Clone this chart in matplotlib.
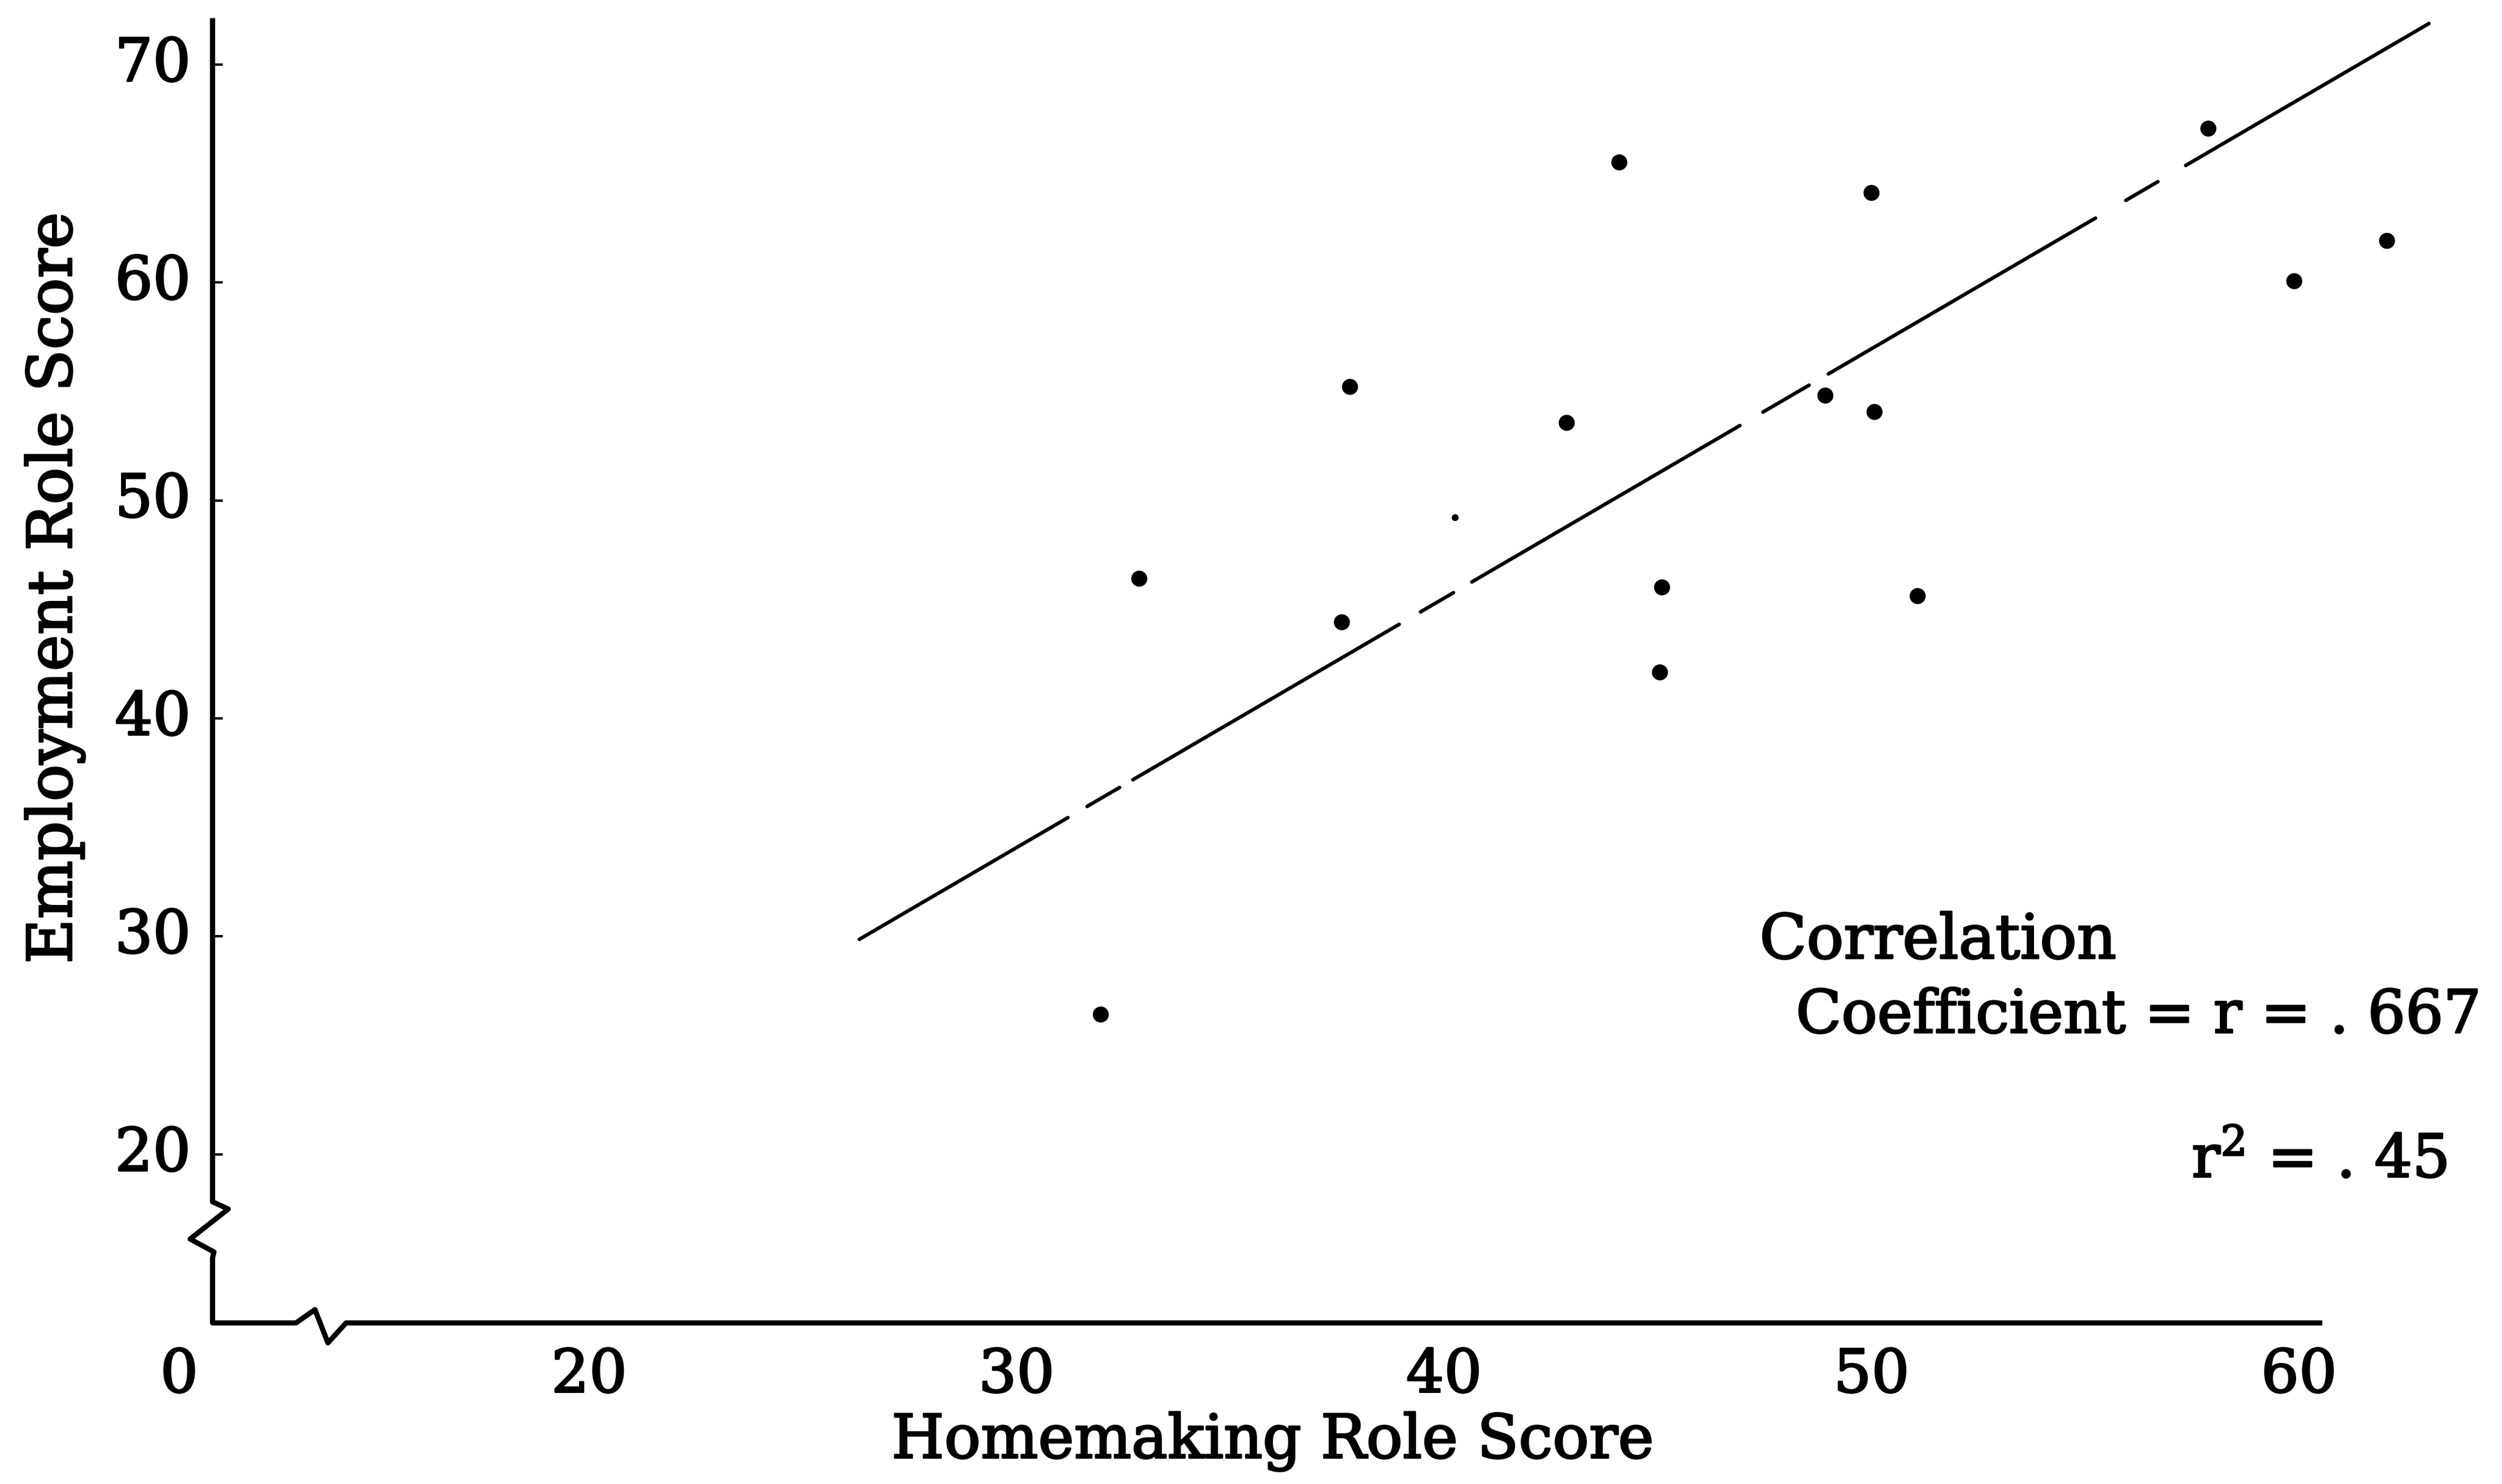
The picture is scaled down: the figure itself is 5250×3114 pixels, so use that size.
import numpy as np
import matplotlib
matplotlib.use("Agg")
import matplotlib.pyplot as plt
import matplotlib.patheffects as pe
from matplotlib.transforms import ScaledTranslation

plt.rcParams['font.family'] = 'DejaVu Serif'
plt.rcParams['mathtext.fontset'] = 'dejavuserif'

# scores
homemaking = [31.97, 32.87, 37.61, 37.80, 40.26, 42.87, 44.10, 45.10,
              45.05, 48.92, 50.00, 50.07, 51.08, 57.88, 59.89, 62.06]
employment = [26.4, 46.4, 44.4, 55.2, 49.2, 53.55, 65.5, 46.0,
              42.1, 54.8, 64.1, 54.05, 45.6, 67.05, 60.05, 61.9]

# regression line ends, and the gaps in the printed line
fit_x = [26.32, 63.04]
fit_y = [29.85, 71.87]
line_gaps = [(31.20, 31.65), (32.41, 32.72), (38.95, 39.45), (40.22, 40.65),
             (46.92, 47.46), (48.54, 48.99), (55.24, 55.95), (56.70, 57.35)]

x_ticks = [20, 30, 40, 50, 60]
y_ticks = [20, 30, 40, 50, 60, 70]

r_value = ". 667"
r2_value = ". 45"

fig = plt.figure(figsize=(17.5, 10.38), dpi=300)
ax = fig.add_axes([0.08495, 0.10854, 0.8937, 0.87926])
ax.set_xlim(11.19, 63.5)
ax.set_ylim(12.25, 72.12)
for s in ax.spines.values():
    s.set_visible(False)

# axes drawn by hand with the break marks
ax_x = [0, 0, 0.00703, -0.01002, 0.00064, 0, 0,
        0.0373, 0.0458, 0.0516, 0.0597, 0.9435]
ax_y = [1, 0.0928, 0.0873, 0.0643, 0.0544, 0.05, 0,
        0, 0.0102, -0.0153, 0, 0]
ax.plot(ax_x, ax_y, color='black', lw=2.6, transform=ax.transAxes,
        clip_on=False, solid_joinstyle='round', solid_capstyle='butt')

# regression line, broken where the original print is broken
pts = [fit_x[0]]
for a, b in line_gaps:
    pts += [a, b]
pts.append(fit_x[1])
for a, b in zip(pts[0::2], pts[1::2]):
    xs = np.array([a, b])
    ax.plot(xs, np.interp(xs, fit_x, fit_y), color='black', lw=1.8,
            solid_capstyle='round', clip_on=False)

sizes = np.full(len(homemaking), 65.0)
sizes[4] = 12.0
ax.scatter(homemaking, employment, s=sizes, c='black', linewidths=0,
           zorder=3, clip_on=False)

ax.set_xticks(x_ticks)
ax.set_yticks(y_ticks)
ax.tick_params(axis='x', length=0, pad=12, labelsize=30)
ax.tick_params(axis='y', direction='in', length=5, width=1.2, pad=11,
               labelsize=30)
for lab in ax.get_yticklabels():
    lab.set_transform(lab.get_transform() +
                      ScaledTranslation(0, 3 / 72, fig.dpi_scale_trans))

ax.annotate('0', xy=(10.41, 12.25), xycoords='data', xytext=(0, -12),
            textcoords='offset points', ha='center', va='top', fontsize=30,
            annotation_clip=False)

ax.set_xlabel('Homemaking Role Score', fontsize=30.5, va='baseline')
ax.xaxis.set_label_coords(0.4742, -0.1034)
ax.set_ylabel('Employment Role Score', fontsize=31, va='baseline')
ax.yaxis.set_label_coords(-0.0631, 0.563)

ax.text(47.38, 28.98, 'Correlation', fontsize=31, ha='left', va='baseline')
ax.text(48.23, 25.57, 'Coefficient = r = ' + r_value, fontsize=30,
        ha='left', va='baseline')
ax.text(57.49, 18.93, r'r$^{2}$ = ' + r2_value, fontsize=30,
        ha='left', va='baseline')

# typewriter ink is heavier than the plain font
ink = [pe.withStroke(linewidth=0.9, foreground='black')]
for t in ax.texts + ax.get_xticklabels() + ax.get_yticklabels() + \
        [ax.xaxis.label, ax.yaxis.label]:
    t.set_path_effects(ink)

fig.savefig('out.png', dpi=300)
